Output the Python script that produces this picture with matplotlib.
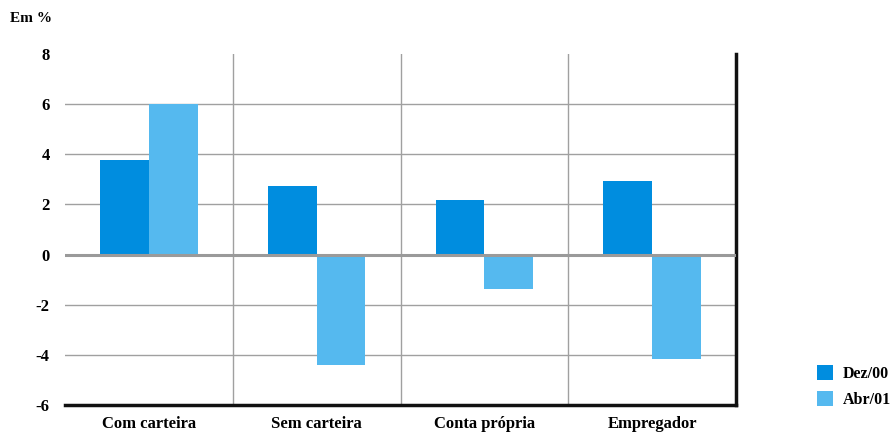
import matplotlib
matplotlib.use("Agg")
import matplotlib.pyplot as plt
import numpy as np

categories = ["Com carteira", "Sem carteira", "Conta própria", "Empregador"]
dez00 = [3.77, 2.74, 2.18, 2.94]
abr01 = [6.0, -4.4, -1.37, -4.17]
series_labels = ["Dez/00", "Abr/01"]
yticks = [-6, -4, -2, 0, 2, 4, 6, 8]

plt.rcParams['font.family'] = ['Liberation Serif', 'DejaVu Serif']

fig = plt.figure(figsize=(8.9, 4.34), dpi=100)
ax = fig.add_axes([65/890, 29/434, (736-65)/890, (405-54)/434])

x = np.arange(len(categories))
w = 0.29
c1 = "#008ddf"
c2 = "#55b9ef"
b1 = ax.bar(x - w/2, dez00, w, color=c1, label=series_labels[0], zorder=3)
b2 = ax.bar(x + w/2, abr01, w, color=c2, label=series_labels[1], zorder=3)

ax.set_xlim(-0.5, 3.5)
ax.set_ylim(-6, 8)

for y in [-4, -2, 2, 4, 6]:
    ax.axhline(y, color="#a0a0a0", lw=1.0, zorder=1)
ax.axhline(0, color="#9a9a9a", lw=2.2, zorder=4)
for xv in [0.5, 1.5, 2.5]:
    ax.axvline(xv, color="#a0a0a0", lw=1.0, zorder=1)

for s in ["top", "left"]:
    ax.spines[s].set_visible(False)
ax.spines["bottom"].set_linewidth(2.5)
ax.spines["right"].set_linewidth(2.5)
ax.spines["bottom"].set_color("#111111")
ax.spines["right"].set_color("#111111")

ax.set_yticks(yticks)
ax.set_yticklabels([str(v) for v in yticks], fontsize=12, fontweight="bold")
ax.tick_params(axis="y", length=0, pad=11)
ax.set_xticks(x)
ax.set_xticklabels(categories, fontsize=12, fontweight="bold")
ax.tick_params(axis="x", length=0, pad=8)

fig.text(10/890, 1 - 18/434, "Em %", fontsize=11, fontweight="bold", va="center", ha="left")

ax.legend(handles=[b1, b2], loc="lower left", bbox_to_anchor=(817/890, 26/434),
          bbox_transform=fig.transFigure, frameon=False, borderaxespad=0,
          prop={"weight": "bold", "size": 11.5}, handlelength=1.0, handleheight=1.1,
          handletextpad=0.6, labelspacing=0.55, borderpad=0)

fig.savefig("out.png", dpi=100)
